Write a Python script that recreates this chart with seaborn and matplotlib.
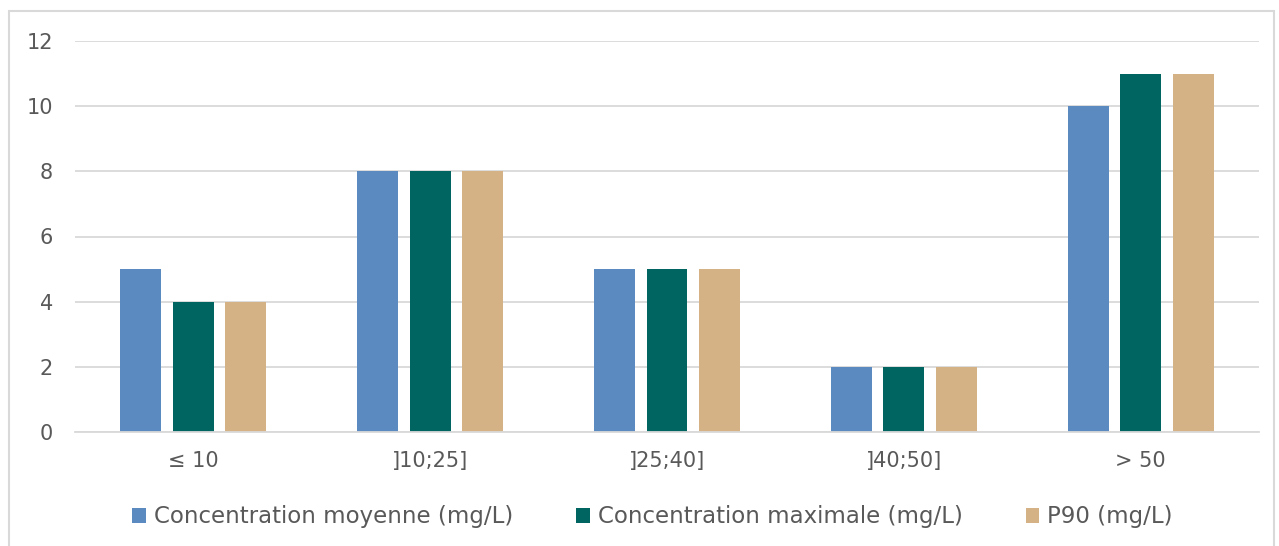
import pandas as pd
import seaborn as sns
import matplotlib.pyplot as plt
from matplotlib.patches import Rectangle

# --- Data ---
categories = ["≤ 10", "]10;25]", "]25;40]", "]40;50]", "> 50"]
series = ["Concentration moyenne (mg/L)", "Concentration maximale (mg/L)", "P90 (mg/L)"]
moyenne = [5, 8, 5, 2, 10]
maximale = [4, 8, 5, 2, 11]
p90 = [4, 8, 5, 2, 11]
colors = ["#5B8AC0", "#006560", "#D4B285"]

df = pd.DataFrame({
    "Classe": categories * 3,
    "Série": [series[0]] * 5 + [series[1]] * 5 + [series[2]] * 5,
    "Valeur": moyenne + maximale + p90,
})

sns.set_style("white")
plt.rcParams["font.family"] = ["DejaVu Sans"]
text_color = "#595959"
grid_color = "#D9D9D9"

fig = plt.figure(figsize=(12.79, 5.46), dpi=100)
ax = fig.add_axes([75 / 1279, 114 / 546, 1184 / 1279, 391 / 546])

sns.barplot(data=df, x="Classe", y="Valeur", hue="Série", order=categories,
            hue_order=series, palette=colors, width=0.665, gap=0.22,
            saturation=1, errorbar=None, ax=ax, legend=True,
            edgecolor="none", linewidth=0)

ax.set_ylim(0, 12)
ax.set_yticks(range(0, 13, 2))
ax.set_xlim(-0.5, 4.5)
ax.yaxis.grid(True, color=grid_color, linewidth=1.3)
ax.set_axisbelow(True)
for side in ["top", "right", "left"]:
    ax.spines[side].set_visible(False)
ax.spines["bottom"].set_color(grid_color)
ax.spines["bottom"].set_linewidth(1.3)
ax.tick_params(axis="both", length=0, labelsize=15, colors=text_color)
ax.tick_params(axis="y", pad=16)
ax.tick_params(axis="x", pad=14)
ax.set_xlabel("")
ax.set_ylabel("")

handles, labels = ax.get_legend_handles_labels()
ax.get_legend().remove()
fig.legend(handles, labels, loc="center", bbox_to_anchor=(0.51, 29 / 546), ncol=3,
           frameon=False, fontsize=16.5, labelcolor=text_color, handlelength=0.6,
           handleheight=0.6, handletextpad=0.35, columnspacing=2.75)

# light frame around the chart area
fig.patches.append(Rectangle((9 / 1279, -0.05), 1265 / 1279, 1 - 11 / 546 + 0.05,
                             transform=fig.transFigure, fill=False,
                             edgecolor=grid_color, linewidth=1.5))

fig.savefig("out.png", dpi=100)
